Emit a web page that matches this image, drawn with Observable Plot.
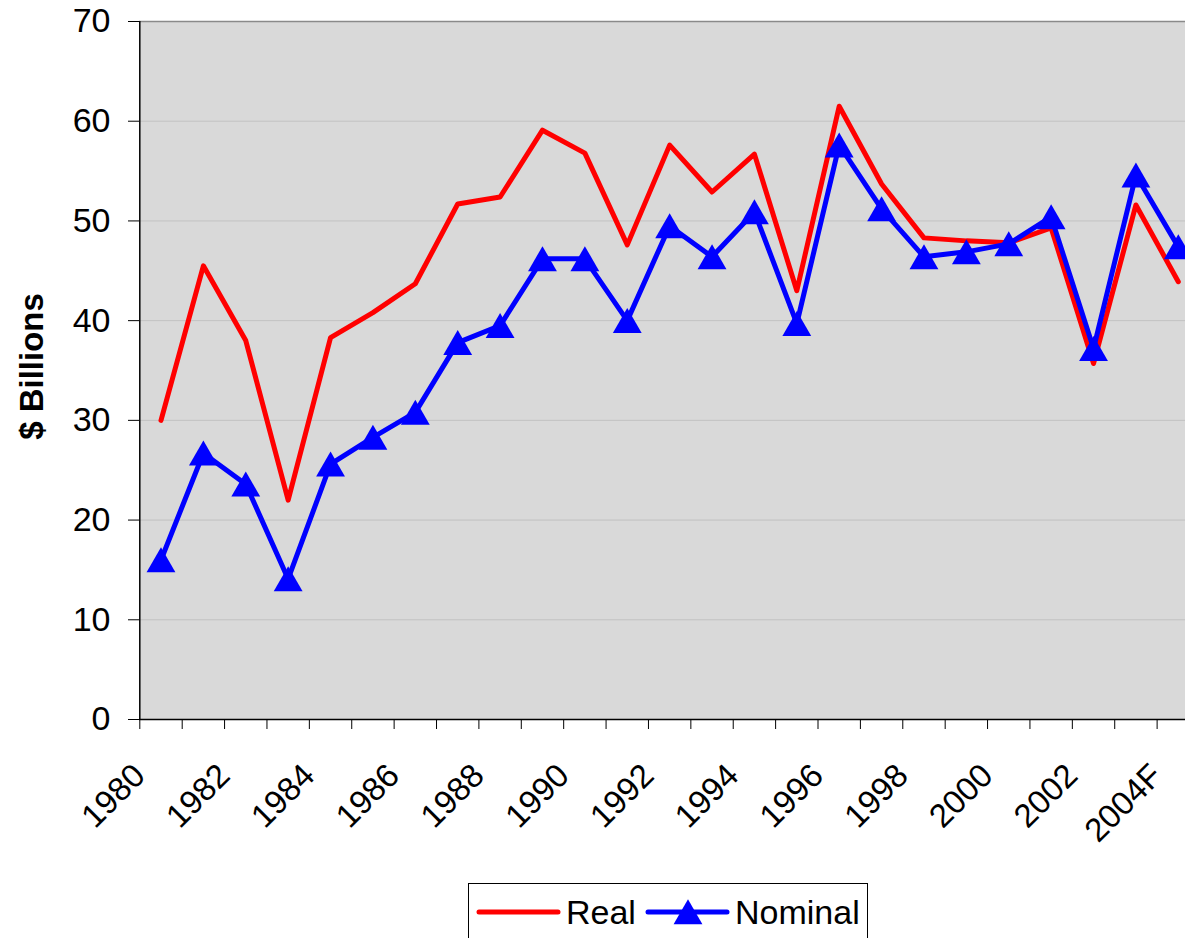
<!DOCTYPE html>
<html>
<head>
<meta charset="utf-8">
<script src="https://cdn.jsdelivr.net/npm/d3@7"></script>
<script src="https://cdn.jsdelivr.net/npm/@observablehq/plot@0.6"></script>
<style>
  html, body { margin: 0; padding: 0; background: #fff; overflow: hidden; width: 1185px; height: 938px; }
  #wrap { position: relative; width: 1185px; height: 938px; overflow: hidden; }
  #wrap > svg { position: absolute; left: 0; top: 0; }
  #legend { position: absolute; left: 468px; top: 883px; width: 400px; height: 70px; border: 1px solid #000; background: #fff; box-sizing: border-box; font-family: "Liberation Sans", Arial, sans-serif; }
  #legend svg { display: block; }
</style>
</head>
<body>
<div id="wrap"></div>
<script>
// ---- data ----
const years = ["1980","1981","1982","1983","1984","1985","1986","1987","1988","1989",
               "1990","1991","1992","1993","1994","1995","1996","1997","1998","1999",
               "2000","2001","2002","2003","2004F"];
const realValues = [30.0, 45.5, 38.0, 22.0, 38.3, 40.8, 43.7, 51.7, 52.4, 59.1,
                    56.8, 47.6, 57.6, 52.9, 56.7, 43.0, 61.5, 53.7, 48.3, 48.0,
                    47.8, 49.3, 35.7, 51.6, 43.9];
const nominalValues = [16.0, 26.7, 23.6, 14.1, 25.6, 28.3, 30.8, 37.8, 39.5, 46.2,
                       46.2, 40.0, 49.5, 46.4, 50.9, 39.7, 57.6, 51.2, 46.4, 46.9,
                       47.7, 50.4, 37.2, 54.6, 47.4];
const yTicks = [0, 10, 20, 30, 40, 50, 60, 70];
const seriesNames = ["Real", "Nominal"];
const yTitle = "$ Billions";

// ---- derived tables ----
const idx = years.map((_, i) => i);
const realData = idx.map(i => ({i, year: years[i], value: realValues[i]}));
const nominalData = idx.map(i => ({i, year: years[i], value: nominalValues[i]}));
const boundaries = idx.map(i => i - 0.5);
const labelIdx = idx.filter(i => i % 2 === 0);
const xDomain = [-0.5, years.length - 0.5];

const font = "'Liberation Sans', Arial, sans-serif";

const chart = Plot.plot({
  width: 1185,
  height: 938,
  marginTop: 21,
  marginBottom: 219,
  marginLeft: 139,
  marginRight: 0,
  style: { fontFamily: font, background: "transparent", color: "#000" },
  x: { type: "linear", domain: xDomain, range: [139.3, 1199] },
  y: { domain: [0, 70], label: null },
  marks: [
    Plot.frame({ fill: "#d9d9d9" }),
    Plot.gridY(yTicks.filter(v => v > 0 && v < 70), { stroke: "#c2c2c2", strokeOpacity: 1 }),
    Plot.ruleY([yTicks[yTicks.length - 1]], { stroke: "#8a8a8a", strokeWidth: 1.5 }),
    Plot.ruleY([0], { stroke: "#000", strokeWidth: 1.5 }),
    Plot.ruleX([xDomain[0]], { stroke: "#000", strokeWidth: 1.5 }),
    Plot.axisY({ ticks: yTicks, tickSize: 11, tickPadding: 18, fontSize: 34, label: null, tickFormat: d => String(d) }),
    Plot.axisX({ ticks: boundaries, tickSize: 10, tickFormat: () => "", label: null }),
    Plot.text(labelIdx, {
      x: d => d, text: d => years[d], frameAnchor: "bottom",
      rotate: -45, textAnchor: "end", lineAnchor: "bottom",
      dx: -14, dy: 58, fontSize: 33, fill: "#000"
    }),
    Plot.text([yTitle], {
      frameAnchor: "left", text: d => d, rotate: -90, textAnchor: "middle", lineAnchor: "bottom",
      dx: -97, dy: -4, fontSize: 33, fontWeight: "bold", fill: "#000"
    }),
    Plot.line(realData, { x: "i", y: "value", stroke: "#ff0000", strokeWidth: 5, strokeLinejoin: "round", strokeLinecap: "round" }),
    Plot.line(nominalData, { x: "i", y: "value", stroke: "#0000ff", strokeWidth: 5, strokeLinejoin: "round", strokeLinecap: "round" }),
    Plot.dot(nominalData, { x: "i", y: "value", symbol: "triangle", r: 10.7, fill: "#0000ff", stroke: "none", dy: 4 })
  ]
});
const wrap = document.getElementById("wrap");
wrap.appendChild(chart);

// ---- legend ----
const legend = document.createElement("div");
legend.id = "legend";
const lsvg = d3.create("svg").attr("width", 400).attr("height", 70);
lsvg.append("line").attr("x1", 10).attr("x2", 89).attr("y1", 28).attr("y2", 28)
  .attr("stroke", "#ff0000").attr("stroke-width", 5).attr("stroke-linecap", "round");
lsvg.append("text").attr("x", 97).attr("y", 40).attr("font-size", 34).attr("font-family", font).text(seriesNames[0]);
lsvg.append("line").attr("x1", 179).attr("x2", 258).attr("y1", 28).attr("y2", 28)
  .attr("stroke", "#0000ff").attr("stroke-width", 5).attr("stroke-linecap", "round");
lsvg.append("path").attr("transform", "translate(219,32)")
  .attr("d", d3.symbol(d3.symbolTriangle, 10.7 * 10.7 * Math.PI)()).attr("fill", "#0000ff");
lsvg.append("text").attr("x", 266).attr("y", 40).attr("font-size", 34).attr("font-family", font).text(seriesNames[1]);
legend.appendChild(lsvg.node());
wrap.appendChild(legend);
</script>
</body>
</html>
